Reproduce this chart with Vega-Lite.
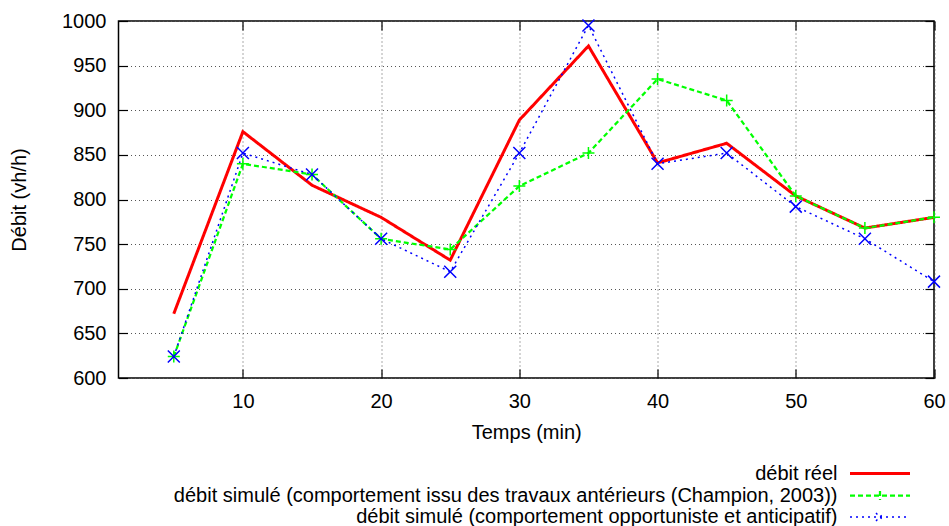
{
  "$schema": "https://vega.github.io/schema/vega-lite/v6.json",
  "autosize": "none",
  "padding": {"left": 118.5, "top": 21, "right": 15, "bottom": 148},
  "width": 815.5,
  "height": 357,
  "background": "white",
  "config": {
    "view": {"stroke": "#000000", "strokeWidth": 1.5},
    "font": "Liberation Sans",
    "axis": {
      "labelFont": "Liberation Sans",
      "labelFontSize": 20,
      "labelColor": "#000000",
      "titleFont": "Liberation Sans",
      "titleFontSize": 20,
      "titleFontWeight": "normal",
      "titleColor": "#000000",
      "domain": false,
      "tickColor": "#000000",
      "tickWidth": 1.2,
      "tickSize": -9,
      "gridColor": "#555555",
      "gridDash": [1, 3],
      "gridWidth": 1,
      "gridOpacity": 1
    },
    "legend": {
      "labelFont": "Liberation Sans",
      "labelFontSize": 20,
      "labelColor": "#000000",
      "labelLimit": 1000,
      "padding": 0
    }
  },
  "data": {
    "values": [
      {"t": 5, "serie": "débit réel", "debit": 672},
      {"t": 10, "serie": "débit réel", "debit": 876},
      {"t": 15, "serie": "débit réel", "debit": 816},
      {"t": 20, "serie": "débit réel", "debit": 780},
      {"t": 25, "serie": "débit réel", "debit": 732},
      {"t": 30, "serie": "débit réel", "debit": 889},
      {"t": 35, "serie": "débit réel", "debit": 972},
      {"t": 40, "serie": "débit réel", "debit": 841},
      {"t": 45, "serie": "débit réel", "debit": 863},
      {"t": 50, "serie": "débit réel", "debit": 804},
      {"t": 55, "serie": "débit réel", "debit": 768},
      {"t": 60, "serie": "débit réel", "debit": 780},
      {"t": 5, "serie": "débit simulé (comportement issu des travaux antérieurs (Champion, 2003))", "debit": 624},
      {"t": 10, "serie": "débit simulé (comportement issu des travaux antérieurs (Champion, 2003))", "debit": 840},
      {"t": 15, "serie": "débit simulé (comportement issu des travaux antérieurs (Champion, 2003))", "debit": 828},
      {"t": 20, "serie": "débit simulé (comportement issu des travaux antérieurs (Champion, 2003))", "debit": 756},
      {"t": 25, "serie": "débit simulé (comportement issu des travaux antérieurs (Champion, 2003))", "debit": 744},
      {"t": 30, "serie": "débit simulé (comportement issu des travaux antérieurs (Champion, 2003))", "debit": 815},
      {"t": 35, "serie": "débit simulé (comportement issu des travaux antérieurs (Champion, 2003))", "debit": 852},
      {"t": 40, "serie": "débit simulé (comportement issu des travaux antérieurs (Champion, 2003))", "debit": 935},
      {"t": 45, "serie": "débit simulé (comportement issu des travaux antérieurs (Champion, 2003))", "debit": 911},
      {"t": 50, "serie": "débit simulé (comportement issu des travaux antérieurs (Champion, 2003))", "debit": 804},
      {"t": 55, "serie": "débit simulé (comportement issu des travaux antérieurs (Champion, 2003))", "debit": 768},
      {"t": 60, "serie": "débit simulé (comportement issu des travaux antérieurs (Champion, 2003))", "debit": 780},
      {"t": 5, "serie": "débit simulé (comportement opportuniste et anticipatif)", "debit": 624},
      {"t": 10, "serie": "débit simulé (comportement opportuniste et anticipatif)", "debit": 852},
      {"t": 15, "serie": "débit simulé (comportement opportuniste et anticipatif)", "debit": 828},
      {"t": 20, "serie": "débit simulé (comportement opportuniste et anticipatif)", "debit": 756},
      {"t": 25, "serie": "débit simulé (comportement opportuniste et anticipatif)", "debit": 719},
      {"t": 30, "serie": "débit simulé (comportement opportuniste et anticipatif)", "debit": 852},
      {"t": 35, "serie": "débit simulé (comportement opportuniste et anticipatif)", "debit": 995},
      {"t": 40, "serie": "débit simulé (comportement opportuniste et anticipatif)", "debit": 840},
      {"t": 45, "serie": "débit simulé (comportement opportuniste et anticipatif)", "debit": 852},
      {"t": 50, "serie": "débit simulé (comportement opportuniste et anticipatif)", "debit": 792},
      {"t": 55, "serie": "débit simulé (comportement opportuniste et anticipatif)", "debit": 756},
      {"t": 60, "serie": "débit simulé (comportement opportuniste et anticipatif)", "debit": 708}
    ]
  },
  "layer": [
    {
      "mark": {"type": "line", "clip": true},
      "encoding": {
        "x": {
          "field": "t", "type": "quantitative",
          "scale": {"domain": [1, 60], "nice": false, "zero": false},
          "axis": {
            "orient": "bottom",
            "values": [10, 20, 30, 40, 50, 60],
            "format": "d",
            "title": "Temps (min)",
            "titleBaseline": "alphabetic",
            "titleY": 60,
            "labelPadding": 22,
            "labelFlush": false,
            "grid": true
          }
        },
        "y": {
          "field": "debit", "type": "quantitative",
          "scale": {"domain": [600, 1000], "nice": false, "zero": false},
          "axis": {
            "orient": "left",
            "values": [600, 650, 700, 750, 800, 850, 900, 950, 1000],
            "format": "d",
            "title": "Débit (vh/h)",
            "titleAngle": -90,
            "titleAlign": "center",
            "titleBaseline": "alphabetic",
            "titleX": -93.5,
            "titleY": 178.5,
            "labelPadding": 21.5,
            "labelFlush": false,
            "grid": true
          }
        },
        "color": {
          "field": "serie", "type": "nominal",
          "scale": {
            "domain": ["débit réel", "débit simulé (comportement issu des travaux antérieurs (Champion, 2003))", "débit simulé (comportement opportuniste et anticipatif)"],
            "range": ["#ff0000", "#00ff00", "#0000ff"]
          },
          "legend": {
            "title": null,
            "orient": "none",
            "legendX": 750,
            "legendY": 441,
            "symbolType": "M-3,0L3,0",
            "symbolSize": 400,
            "rowPadding": 0,
            "labelAlign": "right",
            "labelOffset": -54,
            "encode": {
              "symbols": {
                "update": {
                  "shape": {"signal": "datum.value == 'débit réel' ? 'M-3,0L3,0' : (indexof(datum.value, 'Champion') >= 0 ? 'M-3,0L3,0M0,-0.45L0,0.45' : 'M-3,0L3,0M-0.4,-0.4L0.4,0.4M-0.4,0.4L0.4,-0.4')"},
                  "stroke": {"scale": "color", "field": "value"},
                  "strokeWidth": {"scale": "strokeWidth", "field": "value"},
                  "strokeDash": {"scale": "strokeDash", "field": "value"},
                  "fill": {"value": "transparent"},
                  "opacity": {"value": 1}
                }
              }
            }
          }
        },
        "strokeDash": {
          "field": "serie", "type": "nominal",
          "scale": {
            "domain": ["débit réel", "débit simulé (comportement issu des travaux antérieurs (Champion, 2003))", "débit simulé (comportement opportuniste et anticipatif)"],
            "range": [[1, 0], [5, 3], [2, 4]]
          },
          "legend": null
        },
        "strokeWidth": {
          "field": "serie", "type": "nominal",
          "scale": {
            "domain": ["débit réel", "débit simulé (comportement issu des travaux antérieurs (Champion, 2003))", "débit simulé (comportement opportuniste et anticipatif)"],
            "range": [3, 1.5, 1.5]
          },
          "legend": null
        }
      }
    },
    {
      "transform": [{"filter": "datum.serie != 'débit réel'"}],
      "mark": {"type": "point", "filled": false, "strokeWidth": 1.5, "size": 144, "opacity": 1},
      "encoding": {
        "x": {
          "field": "t", "type": "quantitative",
          "axis": {"orient": "top", "values": [10, 20, 30, 40, 50, 60], "labels": false, "title": null, "grid": false}
        },
        "y": {
          "field": "debit", "type": "quantitative",
          "axis": {"orient": "right", "values": [600, 650, 700, 750, 800, 850, 900, 950, 1000], "labels": false, "title": null, "grid": false}
        },
        "color": {"field": "serie", "type": "nominal"},
        "shape": {
          "field": "serie", "type": "nominal",
          "scale": {
            "domain": ["débit simulé (comportement issu des travaux antérieurs (Champion, 2003))", "débit simulé (comportement opportuniste et anticipatif)"],
            "range": ["M-1,0L1,0M0,-1L0,1", "M-1,-1L1,1M-1,1L1,-1"]
          },
          "legend": null
        }
      }
    }
  ],
  "resolve": {"axis": {"x": "independent", "y": "independent"}}
}
